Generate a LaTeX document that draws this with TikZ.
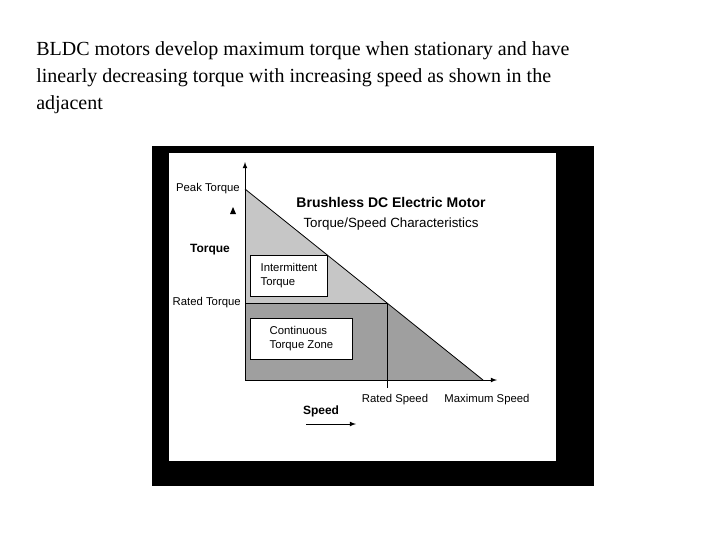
\documentclass[tikz,border=0pt]{standalone}
\usepackage{fontspec}
\setmainfont{Liberation Serif}
\newfontfamily\arialf{Liberation Sans}
\begin{document}
\begin{tikzpicture}[x=0.75pt,y=-0.75pt,
  lbl/.style={font=\arialf\fontsize{8.5}{10}\selectfont, inner sep=0pt},
  zone/.style={draw=black, fill=white, line width=0.7pt, align=left, font=\arialf\fontsize{8.5}{10.5}\selectfont, inner xsep=6pt}]
\useasboundingbox (0,0) rectangle (720,540);
\node[anchor=north west, align=left, inner sep=0pt, font=\fontsize{15}{20.5}\selectfont] (t) at (36,41)
 {BLDC motors develop maximum torque when stationary and have\\linearly decreasing torque with increasing speed as shown in the\\adjacent};
\fill[black] (152,146) rectangle (594,486);
\fill[white] (169,153) rectangle (556,461);
\coordinate (o) at (245,380);
\coordinate (pk) at (245,189);
\coordinate (rt) at (245,303);
\coordinate (rp) at (387,303);
\coordinate (rs) at (387,380);
\coordinate (mx) at (483,380);
\fill[gray!45] (pk) -- (rp) -- (rt) -- cycle;
\fill[gray!75] (rt) -- (rp) -- (mx) -- (o) -- cycle;
\draw[line width=0.6pt] (pk) -- (mx);
\draw[line width=0.6pt] (rt) -- (rp) -- (387,388);
\draw[line width=0.6pt,-latex] (o) -- (245,162);
\draw[line width=0.6pt,-latex] (o) -- (497,380);
\node[zone, minimum width=77pt*0.75, minimum height=41pt*0.75, anchor=north west] (it) at (250,255) {Intermittent\\Torque};
\node[zone, minimum width=102pt*0.75, minimum height=41pt*0.75, anchor=north west] (ct) at (250,318) {Continuous\\Torque Zone};
\node[lbl, anchor=east] (pl) at (240,189) {Peak Torque};
\node[lbl, anchor=east] (rl) at (241,303) {Rated Torque};
\node[font=\arialf\bfseries\fontsize{9}{10}\selectfont, inner sep=0pt] (tq) at (210,250) {Torque};
\fill (233,207) -- (236,214) -- (230,214) -- cycle;
\node[font=\arialf\bfseries\fontsize{10.5}{12}\selectfont, inner sep=0pt] (ti) at (391,202) {Brushless DC Electric Motor};
\node[font=\arialf\fontsize{10}{12}\selectfont, inner sep=0pt] (st) at (391,224) {Torque/Speed Characteristics};
\node[lbl] (rsl) at (395,400) {Rated Speed};
\node[lbl] (msl) at (487,400) {Maximum Speed};
\node[font=\arialf\bfseries\fontsize{9}{10}\selectfont, inner sep=0pt] (sp) at (321,411) {Speed};
\coordinate (a1) at (306,424); \coordinate (a2) at (356,424);
\draw[line width=0.6pt,-latex] (a1) -- (a2);
\end{tikzpicture}
\end{document}
